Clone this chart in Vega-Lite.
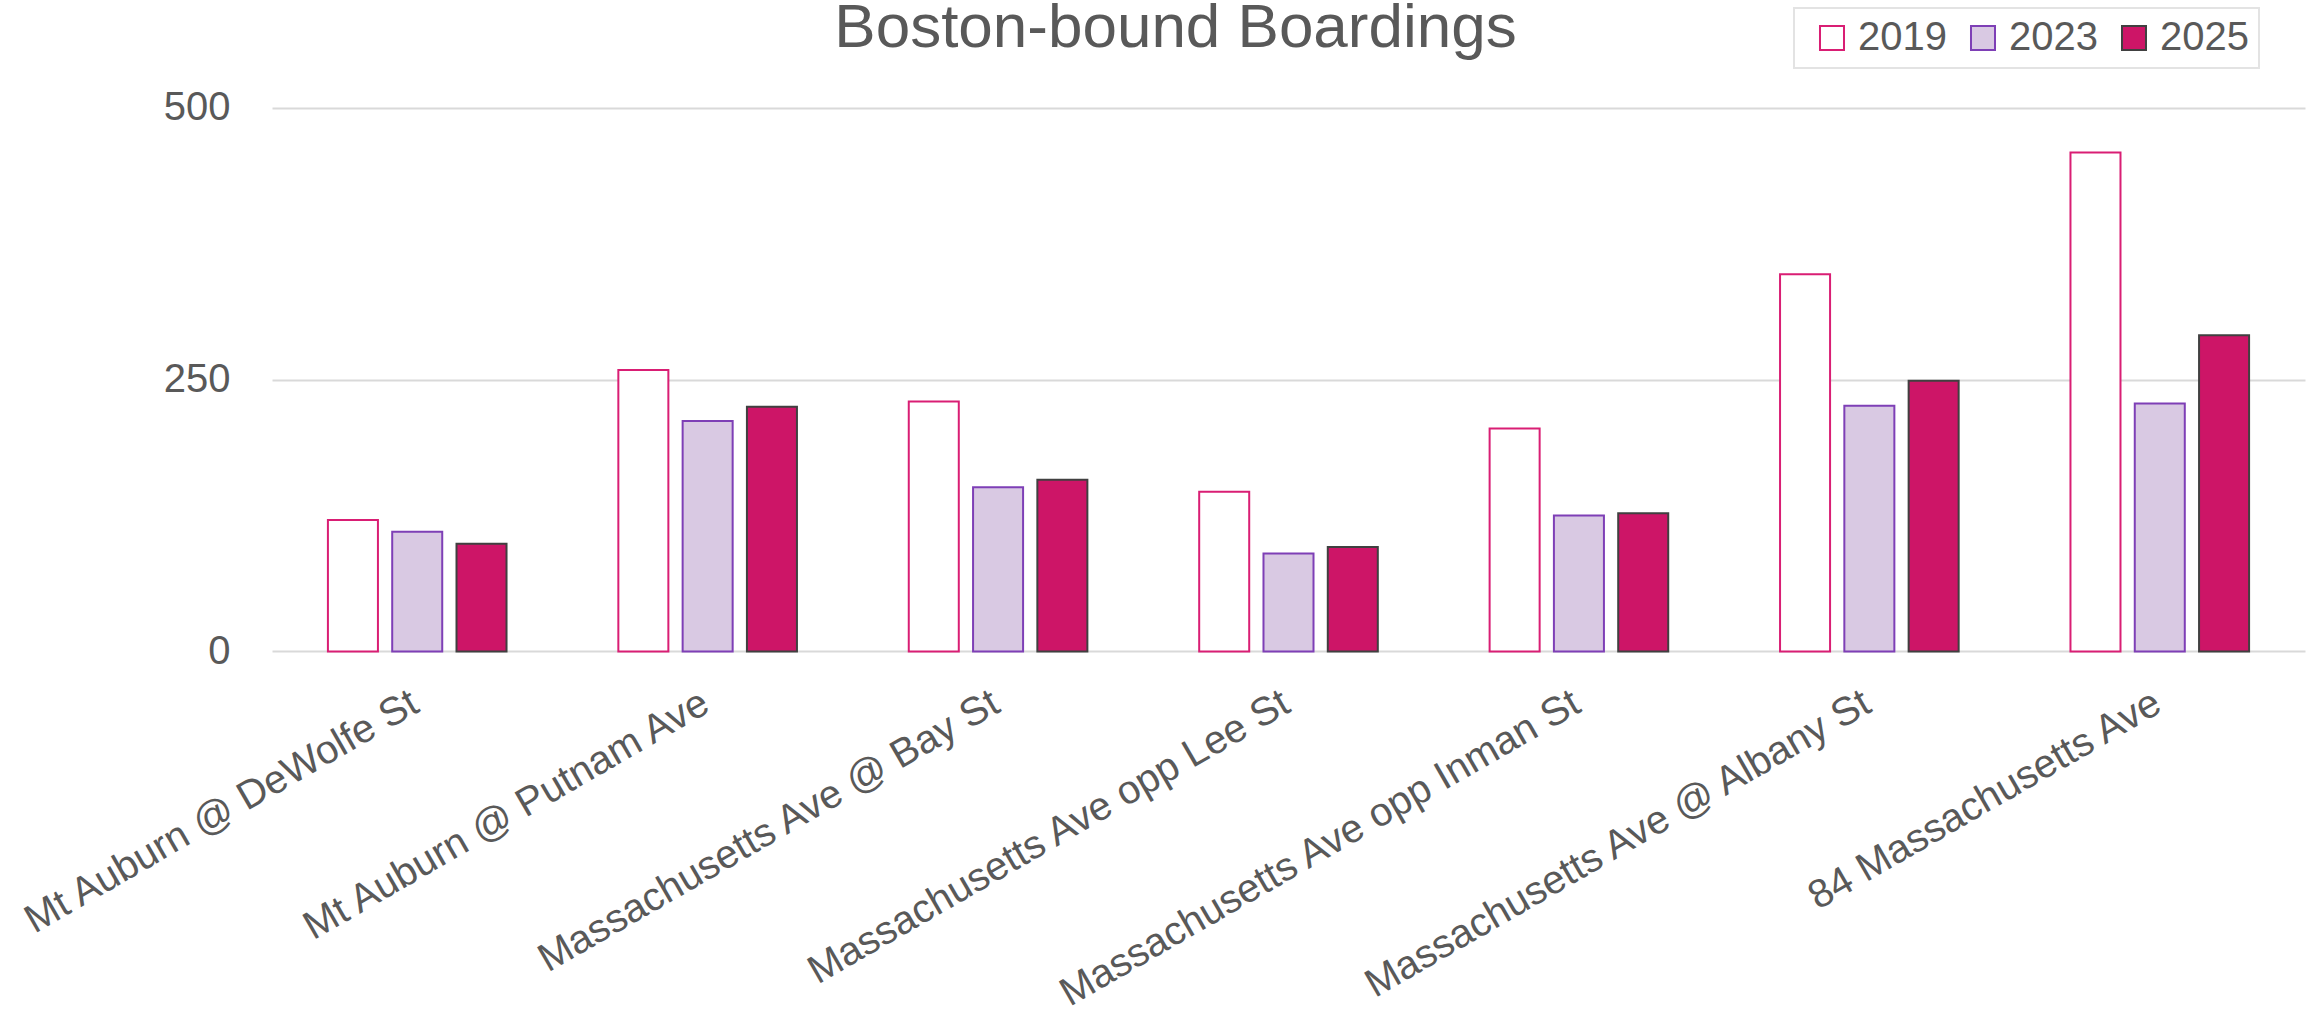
{
  "$schema": "https://vega.github.io/schema/vega-lite/v6.json",
  "autosize": {"type": "none"},
  "width": 2033,
  "height": 543.4,
  "padding": {"left": 272, "top": 108, "right": 13, "bottom": 367},
  "background": "white",
  "title": {
    "text": "Boston-bound Boardings",
    "anchor": "middle",
    "frame": "group",
    "font": "Liberation Sans",
    "fontSize": 62,
    "fontWeight": "normal",
    "color": "#595959",
    "baseline": "alphabetic",
    "dx": -113,
    "dy": 102,
    "offset": 0
  },
  "data": {
    "values": [
      {"stop": "Mt Auburn @ DeWolfe St", "year": "2019", "boardings": 121},
      {"stop": "Mt Auburn @ DeWolfe St", "year": "2023", "boardings": 110},
      {"stop": "Mt Auburn @ DeWolfe St", "year": "2025", "boardings": 99},
      {"stop": "Mt Auburn @ Putnam Ave", "year": "2019", "boardings": 259},
      {"stop": "Mt Auburn @ Putnam Ave", "year": "2023", "boardings": 212},
      {"stop": "Mt Auburn @ Putnam Ave", "year": "2025", "boardings": 225},
      {"stop": "Massachusetts Ave @ Bay St", "year": "2019", "boardings": 230},
      {"stop": "Massachusetts Ave @ Bay St", "year": "2023", "boardings": 151},
      {"stop": "Massachusetts Ave @ Bay St", "year": "2025", "boardings": 158},
      {"stop": "Massachusetts Ave opp Lee St", "year": "2019", "boardings": 147},
      {"stop": "Massachusetts Ave opp Lee St", "year": "2023", "boardings": 90},
      {"stop": "Massachusetts Ave opp Lee St", "year": "2025", "boardings": 96},
      {"stop": "Massachusetts Ave opp Inman St", "year": "2019", "boardings": 205},
      {"stop": "Massachusetts Ave opp Inman St", "year": "2023", "boardings": 125},
      {"stop": "Massachusetts Ave opp Inman St", "year": "2025", "boardings": 127},
      {"stop": "Massachusetts Ave @ Albany St", "year": "2019", "boardings": 347},
      {"stop": "Massachusetts Ave @ Albany St", "year": "2023", "boardings": 226},
      {"stop": "Massachusetts Ave @ Albany St", "year": "2025", "boardings": 249},
      {"stop": "84 Massachusetts Ave", "year": "2019", "boardings": 459},
      {"stop": "84 Massachusetts Ave", "year": "2023", "boardings": 228},
      {"stop": "84 Massachusetts Ave", "year": "2025", "boardings": 291}
    ]
  },
  "mark": {"type": "bar", "strokeWidth": 2},
  "encoding": {
    "x": {
      "field": "stop",
      "type": "nominal",
      "sort": null,
      "scale": {"paddingInner": 0.385, "paddingOuter": 0.1925},
      "axis": {
        "title": null,
        "labelAngle": -30,
        "labelAlign": "right",
        "labelBaseline": "top",
        "labelPadding": 31,
        "labelOffset": -12,
        "labelFontSize": 40,
        "labelFont": "Liberation Sans",
        "labelColor": "#595959",
        "labelLimit": 0,
        "ticks": false,
        "tickSize": 0,
        "domain": false,
        "grid": false
      }
    },
    "xOffset": {
      "field": "year",
      "type": "nominal",
      "scale": {"paddingInner": 0.222, "paddingOuter": 0}
    },
    "y": {
      "field": "boardings",
      "type": "quantitative",
      "scale": {"domain": [0, 500], "nice": false},
      "axis": {
        "title": null,
        "values": [0, 250, 500],
        "labelFontSize": 40,
        "labelFont": "Liberation Sans",
        "labelColor": "#595959",
        "labelPadding": 42,
        "ticks": false,
        "tickSize": 0,
        "domain": false,
        "grid": true,
        "gridColor": "#D9D9D9",
        "gridWidth": 2
      }
    },
    "fill": {
      "field": "year",
      "type": "nominal",
      "scale": {"domain": ["2019", "2023", "2025"], "range": ["#FFFFFF", "#D9C9E3", "#CD1567"]},
      "legend": {
        "title": null,
        "orient": "none",
        "legendX": 1522,
        "legendY": -100,
        "direction": "horizontal",
        "columns": 3,
        "symbolType": "square",
        "symbolSize": 576,
        "symbolStrokeWidth": 2,
        "symbolOffset": 8,
        "labelOffset": 6,
        "labelFontSize": 40,
        "labelFont": "Liberation Sans",
        "labelColor": "#595959",
        "columnPadding": 8,
        "padding": 10,
        "strokeColor": "#E3E3E3",
        "encode": {"legend": {"update": {"strokeWidth": {"value": 2}}}}
      }
    },
    "stroke": {
      "field": "year",
      "type": "nominal",
      "scale": {"domain": ["2019", "2023", "2025"], "range": ["#D91E74", "#7E3FB6", "#404040"]},
      "legend": {
        "title": null,
        "orient": "none",
        "legendX": 1522,
        "legendY": -100,
        "direction": "horizontal",
        "columns": 3,
        "symbolType": "square",
        "symbolSize": 576,
        "symbolStrokeWidth": 2,
        "symbolOffset": 8,
        "labelOffset": 6,
        "labelFontSize": 40,
        "labelFont": "Liberation Sans",
        "labelColor": "#595959",
        "columnPadding": 8,
        "padding": 10,
        "strokeColor": "#E3E3E3",
        "encode": {"legend": {"update": {"strokeWidth": {"value": 2}}}}
      }
    }
  },
  "config": {
    "view": {"stroke": null}
  }
}
